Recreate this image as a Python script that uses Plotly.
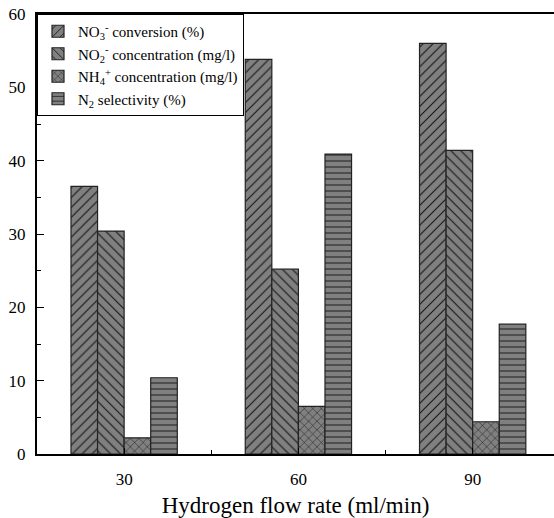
import plotly.graph_objects as go

flow_rates = [30, 60, 90]
series_names = [
    "NO<sub>3</sub><sup>-</sup> conversion (%)",
    "NO<sub>2</sub><sup>-</sup> concentration (mg/l)",
    "NH<sub>4</sub><sup>+</sup> concentration (mg/l)",
    "N<sub>2</sub> selectivity (%)",
]
no3_conversion = [36.5, 53.8, 56.0]
no2_concentration = [30.4, 25.2, 41.4]
nh4_concentration = [2.2, 6.5, 4.4]
n2_selectivity = [10.4, 40.9, 17.7]

series_values = [no3_conversion, no2_concentration, nh4_concentration, n2_selectivity]
patterns = ["/", "\\", "x", "-"]
pattern_sizes = [7, 7, 6, 6]

font_family = "Liberation Serif"

fig = go.Figure()
for name, vals, pat, ps in zip(series_names, series_values, patterns, pattern_sizes):
    fig.add_trace(go.Bar(
        x=flow_rates, y=vals, name=name,
        marker=dict(
            color="#808080",
            line=dict(color="#222222", width=1.2),
            pattern=dict(shape=pat, fgcolor="#111111", bgcolor="#808080",
                         size=ps, solidity=0.15, fillmode="replace"),
        ),
    ))

fig.update_layout(
    width=554, height=518,
    margin=dict(l=37, r=0, t=14, b=64),
    paper_bgcolor="white", plot_bgcolor="white",
    barmode="group", bargap=0.39, bargroupgap=0,
    font=dict(family=font_family, color="black", size=15),
    showlegend=True,
    legend=dict(
        x=0, y=1, xanchor="left", yanchor="top",
        bordercolor="black", borderwidth=1, bgcolor="white",
        font=dict(family=font_family, size=15, color="black"),
        tracegroupgap=0, itemwidth=30,
    ),
    xaxis=dict(
        range=[15, 104], tickvals=flow_rates, ticktext=[str(v) for v in flow_rates],
        showline=True, linecolor="black", linewidth=2, mirror=True,
        ticks="inside", ticklen=6, tickcolor="black",
        minor=dict(tickvals=[45, 75], ticks="inside", ticklen=4, tickcolor="black"),
        showgrid=False, zeroline=False,
        tickfont=dict(family=font_family, size=17),
        ticklabelstandoff=9,
        title=dict(text="Hydrogen flow rate (ml/min)", font=dict(family=font_family, size=23), standoff=8),
    ),
    yaxis=dict(
        range=[0, 60], tickvals=[0, 10, 20, 30, 40, 50, 60],
        showline=True, linecolor="black", linewidth=2, mirror=False,
        ticks="inside", ticklen=7, tickcolor="black",
        minor=dict(dtick=5, ticks="inside", ticklen=4, tickcolor="black"),
        showgrid=False, zeroline=False,
        tickfont=dict(family=font_family, size=17),
        ticklabelstandoff=6,
    ),
)

fig.write_html("out.html")
